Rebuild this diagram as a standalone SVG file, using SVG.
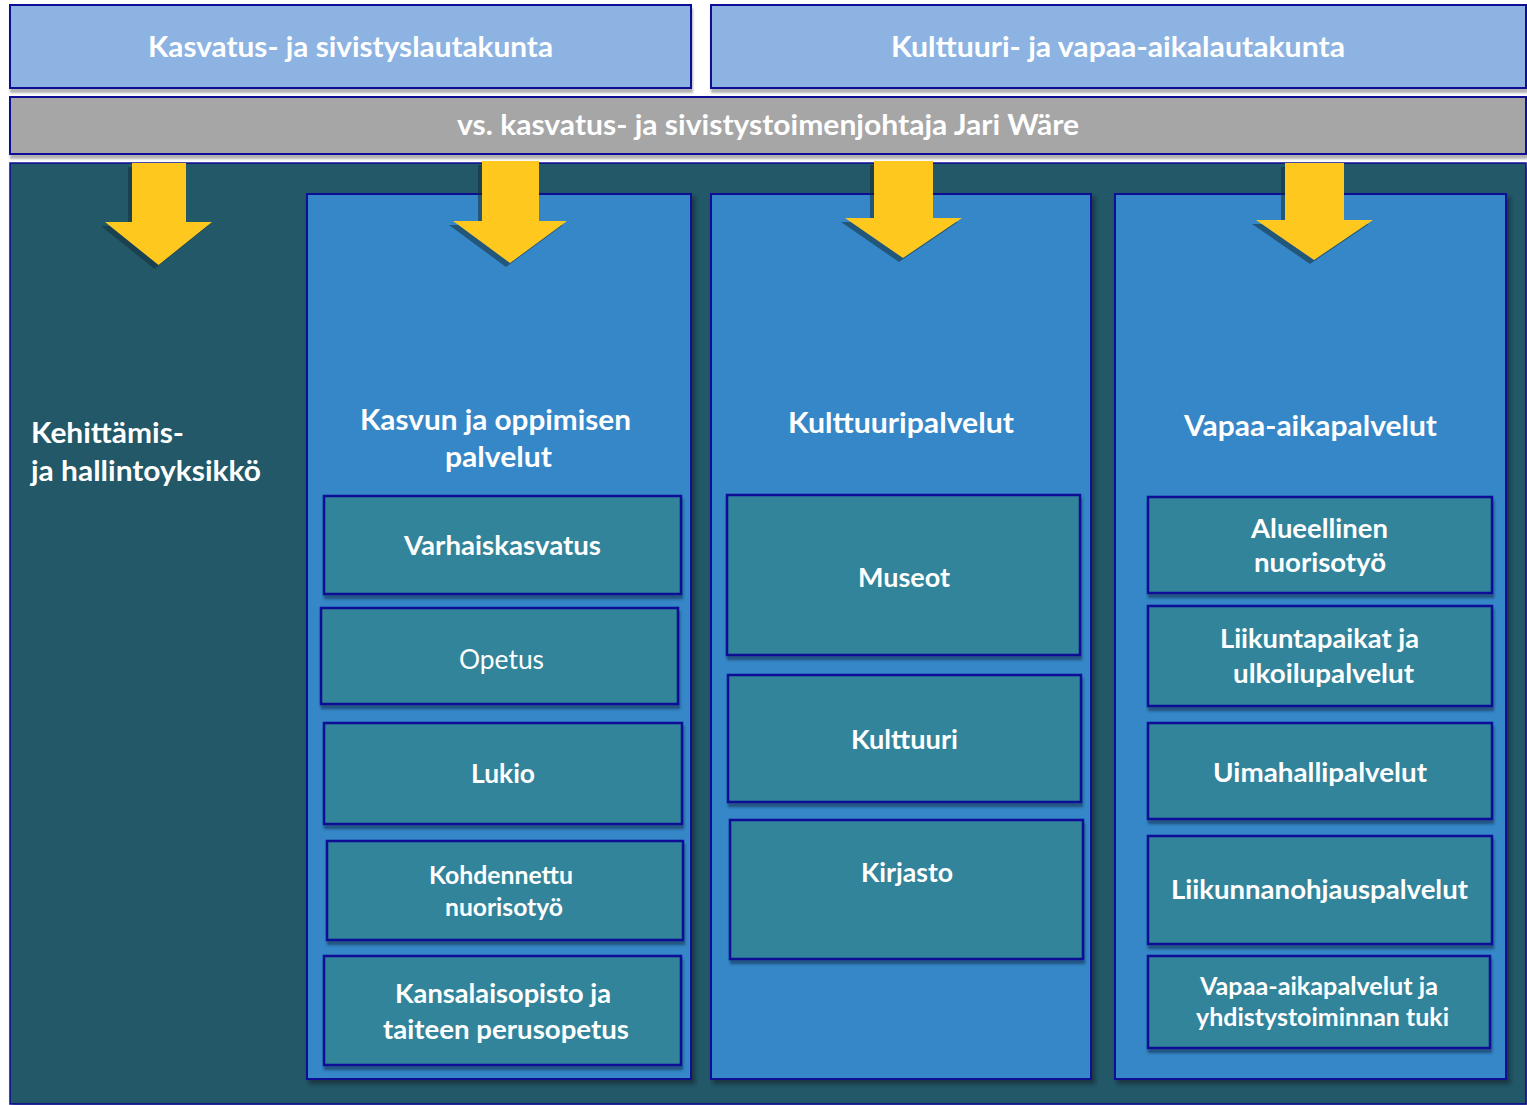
<svg xmlns="http://www.w3.org/2000/svg" width="1527" height="1105" viewBox="0 0 1527 1105">
<defs>
<style>
.board{fill:#8DB3E2;stroke:#0B0B95;stroke-width:2}
.bar{fill:#A6A6A6;stroke:#0B0B95;stroke-width:2}
.bg{fill:#215968;stroke:#0B0B95;stroke-width:1.5}
.col{fill:#3587C8;stroke:#0B0B95;stroke-width:2}
.item{fill:#31849B;stroke:#0B0B95;stroke-width:2.5}
.arrow{fill:#FFC81F}
.ash{fill:#14303A;opacity:0.55}
text{font-family:Lato,"Open Sans","Liberation Sans",sans-serif;font-weight:bold;fill:#FFFFFF;text-anchor:middle}
.t29{font-size:29px}
.t27{font-size:27px}
.t25{font-size:25px}
.t24{font-size:24px}
.reg{font-weight:normal}
.start{text-anchor:start}
</style>
<filter id="shG" x="-5%" y="-20%" width="110%" height="150%">
<feDropShadow dx="1" dy="4" stdDeviation="1.2" flood-color="#000000" flood-opacity="0.3"/>
</filter>
<filter id="shD" x="-5%" y="-5%" width="115%" height="115%">
<feDropShadow dx="3" dy="4" stdDeviation="2" flood-color="#0A1E26" flood-opacity="0.6"/>
</filter>
<filter id="shI" x="-5%" y="-10%" width="110%" height="130%">
<feDropShadow dx="1" dy="4" stdDeviation="1" flood-color="#1A3F66" flood-opacity="0.7"/>
</filter>
</defs>

<rect width="1527" height="1105" fill="#FFFFFF"/>

<g id="background">
<rect class="bg" x="10" y="163" width="1516" height="941" filter="url(#shD)"/>
</g>

<g id="board-kasvatus">
<rect class="board" x="10" y="5" width="681" height="83" filter="url(#shG)"/>
<text class="t29" x="350.5" y="57" textLength="405" lengthAdjust="spacingAndGlyphs">Kasvatus- ja sivistyslautakunta</text>
</g>

<g id="board-kulttuuri">
<rect class="board" x="711" y="5" width="815" height="83" filter="url(#shG)"/>
<text class="t29" x="1118" y="57" textLength="454" lengthAdjust="spacingAndGlyphs">Kulttuuri- ja vapaa-aikalautakunta</text>
</g>

<g id="director">
<rect class="bar" x="10" y="97" width="1516" height="57" filter="url(#shG)"/>
<text class="t29" x="768" y="135" textLength="622" lengthAdjust="spacingAndGlyphs">vs. kasvatus- ja sivistystoimenjohtaja Jari Wäre</text>
</g>

<g id="kehittamis">
<text class="t29 start" x="31" y="443" textLength="153" lengthAdjust="spacingAndGlyphs">Kehittämis-</text>
<text class="t29 start" x="31" y="481" textLength="230" lengthAdjust="spacingAndGlyphs">ja hallintoyksikkö</text>
</g>

<g id="col-kasvun">
<rect class="col" x="307" y="194" width="384" height="885" filter="url(#shD)"/>
<text class="t29" x="495.5" y="430" textLength="271" lengthAdjust="spacingAndGlyphs">Kasvun ja oppimisen</text>
<text class="t29" x="498.5" y="467" textLength="107" lengthAdjust="spacingAndGlyphs">palvelut</text>
</g>

<g id="col-kulttuuri">
<rect class="col" x="711" y="194" width="380" height="885" filter="url(#shD)"/>
<text class="t29" x="901" y="433" textLength="226" lengthAdjust="spacingAndGlyphs">Kulttuuripalvelut</text>
</g>

<g id="col-vapaa">
<rect class="col" x="1115" y="194" width="391" height="885" filter="url(#shD)"/>
<text class="t29" x="1310.5" y="436" textLength="253" lengthAdjust="spacingAndGlyphs">Vapaa-aikapalvelut</text>
</g>

<g id="varhaiskasvatus">
<rect class="item" x="324" y="496" width="357" height="98" filter="url(#shI)"/>
<text class="t27" x="502.5" y="555" textLength="197" lengthAdjust="spacingAndGlyphs">Varhaiskasvatus</text>
</g>
<g id="opetus">
<rect class="item" x="321" y="608" width="357" height="96" filter="url(#shI)"/>
<text class="t27 reg" x="501.5" y="669" textLength="85" lengthAdjust="spacingAndGlyphs">Opetus</text>
</g>
<g id="lukio">
<rect class="item" x="324" y="723" width="358" height="101" filter="url(#shI)"/>
<text class="t27" x="503" y="783" textLength="64" lengthAdjust="spacingAndGlyphs">Lukio</text>
</g>
<g id="kohdennettu">
<rect class="item" x="327" y="841" width="356" height="99" filter="url(#shI)"/>
<text class="t24" x="501" y="884" textLength="144" lengthAdjust="spacingAndGlyphs">Kohdennettu</text>
<text class="t24" x="504" y="916" textLength="118" lengthAdjust="spacingAndGlyphs">nuorisotyö</text>
</g>
<g id="kansalaisopisto">
<rect class="item" x="324" y="956" width="357" height="109" filter="url(#shI)"/>
<text class="t27" x="503" y="1003" textLength="216" lengthAdjust="spacingAndGlyphs">Kansalaisopisto ja</text>
<text class="t27" x="506" y="1039" textLength="246" lengthAdjust="spacingAndGlyphs">taiteen perusopetus</text>
</g>

<g id="museot">
<rect class="item" x="727" y="495" width="353" height="160" filter="url(#shI)"/>
<text class="t27" x="904" y="587" textLength="92" lengthAdjust="spacingAndGlyphs">Museot</text>
</g>
<g id="kulttuuri">
<rect class="item" x="728" y="675" width="353" height="127" filter="url(#shI)"/>
<text class="t27" x="904.5" y="749" textLength="107" lengthAdjust="spacingAndGlyphs">Kulttuuri</text>
</g>
<g id="kirjasto">
<rect class="item" x="730" y="820" width="353" height="139" filter="url(#shI)"/>
<text class="t27" x="907" y="882" textLength="92" lengthAdjust="spacingAndGlyphs">Kirjasto</text>
</g>

<g id="alueellinen">
<rect class="item" x="1148" y="497" width="344" height="96" filter="url(#shI)"/>
<text class="t27" x="1319.5" y="538" textLength="137" lengthAdjust="spacingAndGlyphs">Alueellinen</text>
<text class="t27" x="1320" y="572" textLength="132" lengthAdjust="spacingAndGlyphs">nuorisotyö</text>
</g>
<g id="liikuntapaikat">
<rect class="item" x="1148" y="606" width="344" height="100" filter="url(#shI)"/>
<text class="t27" x="1319.5" y="648" textLength="199" lengthAdjust="spacingAndGlyphs">Liikuntapaikat ja</text>
<text class="t27" x="1323.5" y="683" textLength="181" lengthAdjust="spacingAndGlyphs">ulkoilupalvelut</text>
</g>
<g id="uimahalli">
<rect class="item" x="1148" y="723" width="344" height="96" filter="url(#shI)"/>
<text class="t27" x="1320" y="782" textLength="214" lengthAdjust="spacingAndGlyphs">Uimahallipalvelut</text>
</g>
<g id="liikunnanohjaus">
<rect class="item" x="1148" y="836" width="344" height="108" filter="url(#shI)"/>
<text class="t27" x="1319.5" y="899" textLength="297" lengthAdjust="spacingAndGlyphs">Liikunnanohjauspalvelut</text>
</g>
<g id="vapaa-aika-yhdistys">
<rect class="item" x="1148" y="956" width="342" height="92" filter="url(#shI)"/>
<text class="t25" x="1319" y="995" textLength="238" lengthAdjust="spacingAndGlyphs">Vapaa-aikapalvelut ja</text>
<text class="t25" x="1322.5" y="1026" textLength="253" lengthAdjust="spacingAndGlyphs">yhdistystoiminnan tuki</text>
</g>

<g id="connectors">
<polygon class="ash" transform="translate(-4,4)" points="132,163 186,163 186,222 212,222 158.5,265 105,222 132,222"/>
<polygon class="arrow" points="132,163 186,163 186,222 212,222 158.5,265 105,222 132,222"/>
<polygon class="ash" transform="translate(-4,4)" points="482,161 539,161 539,221 567,221 510,263 453,221 482,221"/>
<polygon class="arrow" points="482,161 539,161 539,221 567,221 510,263 453,221 482,221"/>
<polygon class="ash" transform="translate(-4,4)" points="874,161 933,161 933,218 962,218 903,258 845,218 874,218"/>
<polygon class="arrow" points="874,161 933,161 933,218 962,218 903,258 845,218 874,218"/>
<polygon class="ash" transform="translate(-4,4)" points="1285,163 1344,163 1344,220 1373,220 1314,260 1256,220 1285,220"/>
<polygon class="arrow" points="1285,163 1344,163 1344,220 1373,220 1314,260 1256,220 1285,220"/>
</g>
</svg>
